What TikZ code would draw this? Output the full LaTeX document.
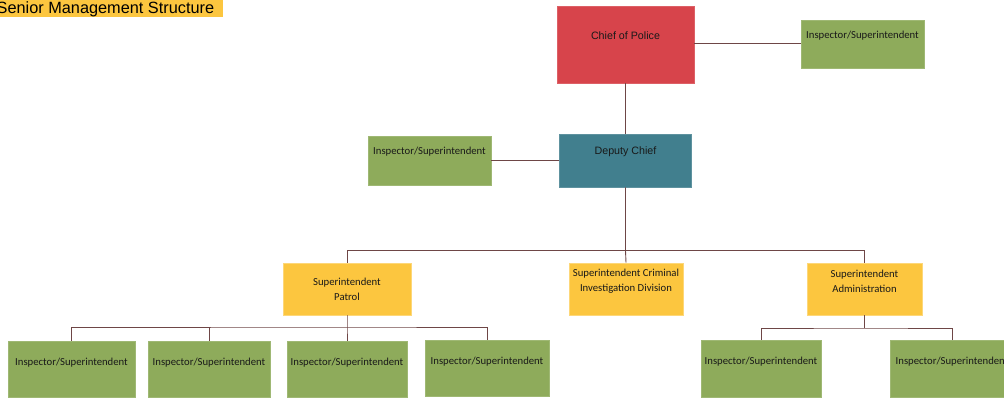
\documentclass[tikz,border=0pt]{standalone}
\usepackage{fontspec}
\setmainfont{Carlito}
\newfontfamily\arialfont{Liberation Sans}
\begin{document}
\begin{tikzpicture}[x=1pt,y=-1pt,
  box/.style={rectangle, inner sep=0pt, line width=0.6pt},
  redbox/.style={box, fill=boxred, draw=boxred!85!white},
  tealbox/.style={box, fill=boxteal, draw=boxteal!85!white},
  greenbox/.style={box, fill=boxgreen, draw=boxgreen!85!white},
  yellowbox/.style={box, fill=boxyellow, draw=boxyellow!70!white},
  lbl/.style={inner sep=0pt, text=black!90, font=\fontsize{10.7}{15}\selectfont, align=center},
  albl/.style={lbl, font=\arialfont\fontsize{10.7}{15}\selectfont},
  link/.style={draw=linkbrown, line width=0.9pt}
]
\definecolor{boxred}{HTML}{D7444B}
\definecolor{boxteal}{HTML}{417F8E}
\definecolor{boxgreen}{HTML}{8EAB5B}
\definecolor{boxyellow}{HTML}{FCC63F}
\definecolor{linkbrown}{HTML}{6E4646}

\useasboundingbox (0,0) rectangle (1004,399);
\clip (0,0) rectangle (1004,399);

% title banner
\fill[boxyellow] (0,0) rectangle (223,17);
\node[anchor=base west, inner sep=0pt, font=\arialfont\fontsize{16.3}{18}\selectfont] (title) at (-3.5,13.5) {Senior Management Structure};

% top levels
\node[redbox, minimum width=137pt, minimum height=77pt] (chief) at (625.5,44.5) {};
\node[albl] (chieft) at (625.5,36) {Chief of Police};
\node[greenbox, minimum width=123pt, minimum height=48pt] (instop) at (862.5,44) {};
\node[lbl] (instopt) at (862.5,36) {Inspector/Superintendent};

\node[tealbox, minimum width=132pt, minimum height=53pt] (deputy) at (625.5,160.5) {};
\node[albl] (deputyt) at (625.5,152) {Deputy Chief};
\node[greenbox, minimum width=123pt, minimum height=49pt] (insleft) at (429.5,160.5) {};
\node[lbl] (inslefft) at (429.5,152) {Inspector/Superintendent};

% superintendents
\node[yellowbox, minimum width=128pt, minimum height=52pt] (patrol) at (347,289) {};
\node[lbl] (patrolt) at (347,289.5) {Superintendent\\Patrol};
\node[yellowbox, minimum width=114pt, minimum height=52pt] (scid) at (626,289) {};
\node[lbl] (scidt) at (626,281.5) {Superintendent Criminal\\Investigation Division};
\node[yellowbox, minimum width=115pt, minimum height=52pt] (admin) at (864.5,289) {};
\node[lbl] (admint) at (864.5,281.5) {Superintendent\\Administration};

% inspectors under patrol
\node[greenbox, minimum width=127pt, minimum height=56pt] (p1) at (71.5,369) {};
\node[lbl] (p1t) at (71.5,363) {Inspector/Superintendent};
\node[greenbox, minimum width=122pt, minimum height=56pt] (p2) at (209,369) {};
\node[lbl] (p2t) at (209,363) {Inspector/Superintendent};
\node[greenbox, minimum width=120pt, minimum height=56pt] (p3) at (347,369) {};
\node[lbl] (p3t) at (347,363) {Inspector/Superintendent};
\node[greenbox, minimum width=124pt, minimum height=56pt] (p4) at (487,368) {};
\node[lbl] (p4t) at (487,362) {Inspector/Superintendent};

% inspectors under administration
\node[greenbox, minimum width=120pt, minimum height=57pt] (a1) at (761,368.5) {};
\node[lbl] (a1t) at (761,362) {Inspector/Superintendent};
\node[greenbox, minimum width=124pt, minimum height=57pt] (a2) at (952,368.5) {};
\node[lbl] (a2t) at (952,362) {Inspector/Superintendent};

% junction points
\coordinate (j1) at (625.5,250.5);
\coordinate (j2) at (347,327);
\coordinate (j3) at (864.5,328);

% connectors
\draw[link] (chief.east |- 0,43.5) -- (instop.west |- 0,43.5);
\draw[link] (chief.south) -- (deputy.north);
\draw[link] (insleft.east) -- (deputy.west);
\draw[link] (deputy.south) -- (j1) -- (scid.north);
\draw[link] (patrol.north) |- (j1) -| (admin.north);
\draw[link] (patrol.south) -- (j2) -- (p3.north);
\draw[link] (p1.north) |- (j2) -| (p4.north);
\draw[link] (p2.north) -- (p2.north |- j2);
\draw[link] (admin.south) -- (j3);
\draw[link] (a1.north) |- (j3) -| (a2.north);
\end{tikzpicture}
\end{document}
